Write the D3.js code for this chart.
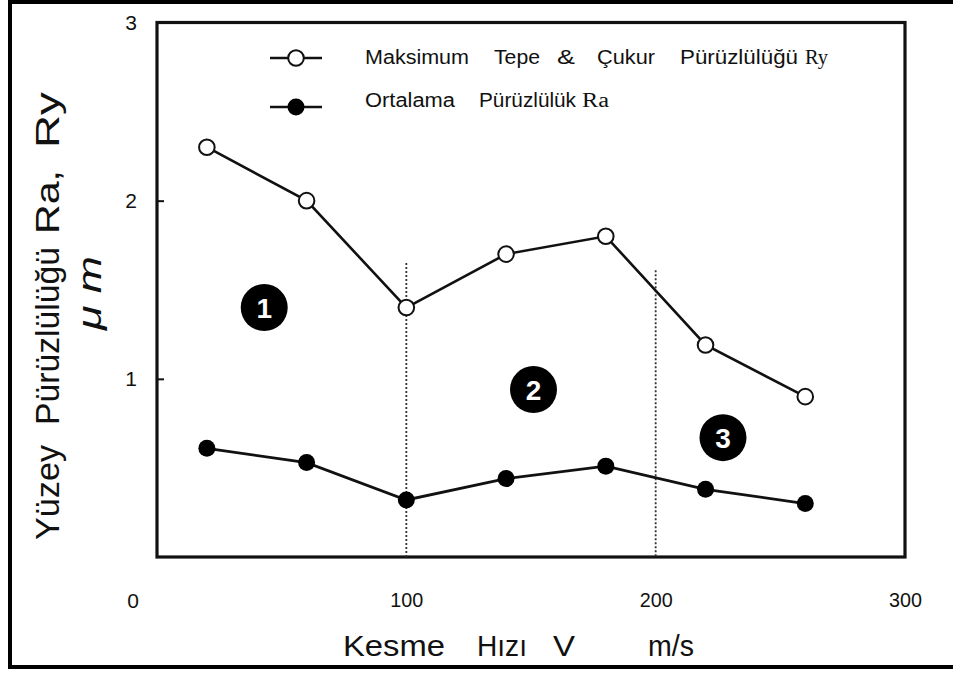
<!DOCTYPE html>
<html>
<head>
<meta charset="utf-8">
<script src="https://cdn.jsdelivr.net/npm/d3@7"></script>
<style>
  html, body { margin: 0; padding: 0; background: #fff; }
  svg { display: block; }
  text { font-family: "Liberation Sans", Arial, sans-serif; fill: #111; }
</style>
</head>
<body>
<svg id="chart" width="953" height="674"></svg>
<script>
// ---- data ----
const speeds = [20, 60, 100, 140, 180, 220, 260];           // Kesme hızı V (m/s)
const ryValues = [2.30, 2.00, 1.40, 1.70, 1.80, 1.19, 0.90]; // Ry (µm)
const raValues = [0.61, 0.53, 0.32, 0.44, 0.51, 0.38, 0.30]; // Ra (µm)
const xTickValues = [100, 200, 300];
const yTickValues = [1, 2, 3];
const zoneBoundaries = [100, 200];
const zoneBoundaryTops = [1.65, 1.61];
const zoneNames = ["1", "2", "3"];
const zoneCentersX = [43, 151, 227];
const zoneCentersY = [1.40, 0.94, 0.67];
const seriesNames = ["Maksimum Tepe & Çukur Pürüzlülüğü Ry", "Ortalama Pürüzlülük Ra"];

const svg = d3.select("#chart");
const W = 953, H = 674;
const x = d3.scaleLinear().domain([0, 300]).range([157, 905]);
const y = d3.scaleLinear().domain([0, 3]).range([557, 22.5]);

svg.append("rect").attr("width", W).attr("height", H).attr("fill", "#fff");
// outer frame
svg.append("rect").attr("x", 10).attr("y", 2).attr("width", 960).attr("height", 665)
  .attr("fill", "none").attr("stroke", "#000").attr("stroke-width", 4);

// plot box
svg.append("rect").attr("x", x(0)).attr("y", y(3))
  .attr("width", x(300) - x(0)).attr("height", y(0) - y(3))
  .attr("fill", "none").attr("stroke", "#111").attr("stroke-width", 3.2);

// y axis
const yAxis = d3.axisLeft(y).tickValues(yTickValues).tickSizeInner(-7).tickSizeOuter(0).tickPadding(20)
  .tickFormat(d3.format("d"));
const gy = svg.append("g").attr("transform", `translate(${x(0)},0)`).call(yAxis);
gy.select(".domain").remove();
gy.selectAll(".tick line").attr("stroke", "#111").attr("stroke-width", 2);
gy.selectAll(".tick text").attr("font-size", 21).attr("font-family", "Liberation Sans, Arial, sans-serif").attr("fill", "#222");

// x axis
const xAxis = d3.axisBottom(x).tickValues(xTickValues).tickSizeInner(0).tickSizeOuter(0).tickPadding(35)
  .tickFormat(d3.format("d"));
const gx = svg.append("g").attr("transform", `translate(0,${y(0)})`).call(xAxis);
gx.select(".domain").remove();
gx.selectAll(".tick text").attr("font-size", 21).attr("font-family", "Liberation Sans, Arial, sans-serif").attr("fill", "#222")
  .attr("textLength", 33).attr("lengthAdjust", "spacingAndGlyphs");

// origin label
svg.append("text").attr("x", 133).attr("y", 608).attr("text-anchor", "middle")
  .attr("font-size", 21).attr("fill", "#222").text("0");

// zone boundaries (dotted)
svg.selectAll(".zone-line").data(zoneBoundaries).join("line")
  .attr("x1", d => x(d)).attr("x2", d => x(d))
  .attr("y1", (d, i) => y(zoneBoundaryTops[i])).attr("y2", y(0))
  .attr("stroke", "#333").attr("stroke-width", 1.8).attr("stroke-dasharray", "2,2");

// lines
const line = d3.line().x(d => x(d[0])).y(d => y(d[1]));
const ryData = speeds.map((s, i) => [s, ryValues[i]]);
const raData = speeds.map((s, i) => [s, raValues[i]]);
svg.append("path").datum(ryData).attr("d", line).attr("fill", "none").attr("stroke", "#111").attr("stroke-width", 2.6);
svg.append("path").datum(raData).attr("d", line).attr("fill", "none").attr("stroke", "#111").attr("stroke-width", 2.8);

svg.selectAll(".ry").data(ryData).join("circle")
  .attr("cx", d => x(d[0])).attr("cy", d => y(d[1])).attr("r", 7.8)
  .attr("fill", "#fff").attr("stroke", "#111").attr("stroke-width", 2);
svg.selectAll(".ra").data(raData).join("circle")
  .attr("cx", d => x(d[0])).attr("cy", d => y(d[1])).attr("r", 8.5)
  .attr("fill", "#000");

// zone badges
const badges = svg.selectAll(".badge").data(zoneNames).join("g")
  .attr("transform", (d, i) => `translate(${x(zoneCentersX[i])},${y(zoneCentersY[i])})`);
badges.append("circle").attr("r", 23.5).attr("fill", "#000");
badges.append("text").attr("text-anchor", "middle").attr("dy", "0.36em")
  .attr("font-size", 28).attr("font-weight", "bold").style("fill", "#fff").text(d => d);

// legend
const SANS = "'Liberation Sans', Arial, sans-serif", SERIF = "'Liberation Serif', 'Times New Roman', serif";
const legend = [
  { y: 58, ty: 64, open: true, parts: [["Maksimum", 365, 104, SANS], ["Tepe", 494, 46, SANS], ["&", 557, 18, SANS], ["Çukur", 597, 58, SANS], ["Pürüzlülüğü", 680, 118, SANS], ["Ry", 805, 23, SERIF]] },
  { y: 107, ty: 107, open: false, parts: [["Ortalama", 365, 90, SANS], ["Pürüzlülük", 479, 97, SANS], ["Ra", 582, 27, SERIF]] }
];
legend.forEach(l => {
  svg.append("line").attr("x1", 270).attr("x2", 322).attr("y1", l.y).attr("y2", l.y)
    .attr("stroke", "#111").attr("stroke-width", 2.6);
  svg.append("circle").attr("cx", 296).attr("cy", l.y).attr("r", l.open ? 7.8 : 8.5)
    .attr("fill", l.open ? "#fff" : "#000").attr("stroke", "#111").attr("stroke-width", l.open ? 2 : 0);
  l.parts.forEach(p => {
    svg.append("text").attr("x", p[1]).attr("y", l.ty)
      .style("font-family", p[3]).attr("font-size", 20)
      .attr("textLength", p[2]).attr("lengthAdjust", "spacingAndGlyphs")
      .text(p[0]);
  });
});

// y axis title
const yTitle = [["Yüzey", 540, 95], ["Pürüzlülüğü", 425, 178], ["Ra,", 234, 64], ["Ry", 148, 56]];
yTitle.forEach(p => {
  svg.append("text").attr("transform", `translate(59,${p[1]}) rotate(-90)`)
    .attr("font-size", 33).attr("fill", "#222")
    .attr("textLength", p[2]).attr("lengthAdjust", "spacingAndGlyphs").text(p[0]);
});
svg.append("text").attr("transform", "translate(101,330) rotate(-90)")
  .attr("font-size", 33).attr("font-style", "italic").attr("fill", "#222")
  .attr("textLength", 74).attr("lengthAdjust", "spacingAndGlyphs").text("μ m");

// x axis title
const xTitle = [["Kesme", 343, 102], ["Hızı", 477, 50], ["V", 553, 22], ["m/s", 648, 46]];
xTitle.forEach(p => {
  svg.append("text").attr("x", p[1]).attr("y", 656).attr("font-size", 29).attr("fill", "#222")
    .attr("textLength", p[2]).attr("lengthAdjust", "spacingAndGlyphs").text(p[0]);
});
</script>
</body>
</html>
